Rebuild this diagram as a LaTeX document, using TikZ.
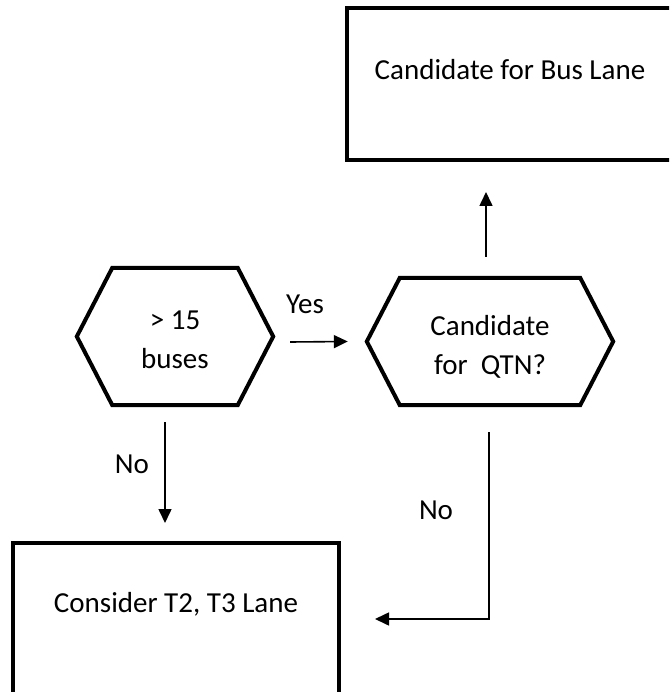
\documentclass[tikz,border=0pt]{standalone}
\usepackage{fontspec}
\setmainfont{Carlito}
\usetikzlibrary{arrows.meta}
\begin{document}
\begin{tikzpicture}[x=1pt,y=-1pt,
  font=\fontsize{29}{39}\selectfont,
  outline/.style={line width=4pt, line join=miter},
  procbox/.style={draw, outline, rectangle, inner sep=0pt,
    minimum width=326pt, minimum height=152pt, text height=21pt},
  hexnode/.style={rectangle, inner sep=0pt, align=center},
  arr/.style={line width=1.6pt, -{Triangle[length=14pt,width=13pt]}},
  lbl/.style={anchor=base, inner sep=0pt}]
\useasboundingbox (0,0) rectangle (669,692);
\clip (0,0) rectangle (669,692);

% result boxes (text sits in the upper part of each box)
\node[procbox, text depth=29pt] (bus) at (510,84) {Candidate for Bus Lane};
\node[procbox, text depth=35pt] (t2t3) at (176,619) {Consider T2, T3 Lane};

% decision hexagons (the struts push the two text lines a little lower)
\node[hexnode, minimum width=196pt, minimum height=137pt] (q1) at (175,336.5)
  {\rule{0pt}{24.5pt}> 15\\buses};
\draw[outline] ([xshift=35.5pt]q1.north west) -- ([xshift=-35.5pt]q1.north east)
  -- (q1.east) -- ([xshift=-35.5pt]q1.south east)
  -- ([xshift=35.5pt]q1.south west) -- (q1.west) -- cycle;

\node[hexnode, minimum width=246pt, minimum height=127pt] (q2) at (490,341.5)
  {\rule{0pt}{31pt}Candidate\\for\ \ QTN?};
\draw[outline] ([xshift=33pt]q2.north west) -- ([xshift=-33pt]q2.north east)
  -- (q2.east) -- ([xshift=-33pt]q2.south east)
  -- ([xshift=33pt]q2.south west) -- (q2.west) -- cycle;

% connectors
\draw[arr] ([shift={(17,5.5)}]q1.east) -- ([xshift=-19pt]q2.west);
\draw[arr] ([shift={(-4,-21)}]q2.north) -- ([shift={(-24,30)}]bus.south);
\draw[arr] ([shift={(-10,17)}]q1.south) -- ([shift={(-11,-18)}]t2t3.north);
\draw[arr] ([shift={(-1,27)}]q2.south) |- ([xshift=34pt]t2t3.east);

% connector labels
\node[lbl] (yes) at (305,313) {Yes};
\node[lbl] (no1) at (132,473) {No};
\node[lbl] (no2) at (436,519) {No};
\end{tikzpicture}
\end{document}
